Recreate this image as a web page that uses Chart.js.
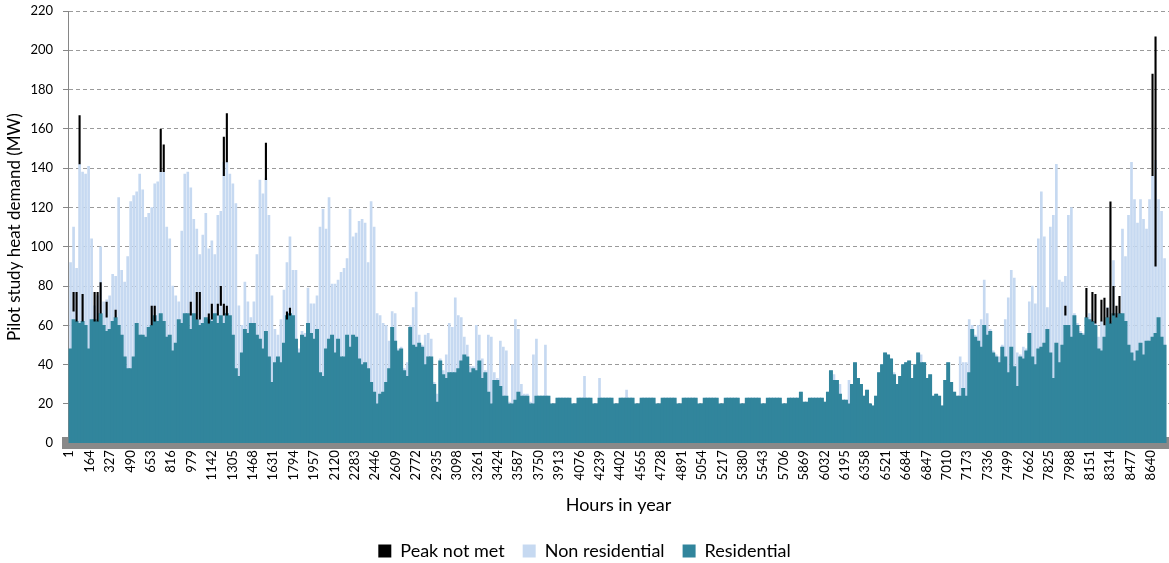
<!DOCTYPE html>
<html>
<head>
<meta charset="utf-8">
<script src="https://cdn.jsdelivr.net/npm/chart.js@4.4.1/dist/chart.umd.min.js"></script>
<style>
  html, body { margin: 0; padding: 0; background: #fff; }
  #wrap { width: 1169px; height: 563px; position: relative; }
</style>
</head>
<body>
<div id="wrap"><canvas id="myChart"></canvas></div>
<script>
// one value per day of the year (MW)
const residential = [
  48,63,62,61,62,60,48,63,63,62, 66,60,57,58,62,64,60,55,44,38,
  38,44,61,55,55,54,59,60,65,62, 66,62,54,55,47,51,63,61,66,66,
  58,66,63,60,61,64,63,62,66,61, 65,61,66,65,55,38,34,46,58,56,
  61,61,55,53,48,57,44,31,41,44, 41,51,65,66,65,53,46,55,54,61,
  56,53,58,36,34,48,53,55,46,53, 44,44,55,49,55,54,43,40,41,38,
  31,26,20,25,26,31,38,59,52,47, 48,37,34,59,50,49,51,49,40,44,
  44,30,21,42,35,33,36,36,36,38, 42,45,44,36,38,37,42,33,36,26,
  20,32,32,29,24,24,20,20,22,26, 24,24,24,20,20,24,24,24,24,24,
  20,20,23,23,23,23,23,20,20,23, 23,23,23,23,20,20,23,23,23,23,
  23,20,20,23,23,23,23,23,20,20, 23,23,23,23,23,20,20,23,23,23,
  23,23,20,20,23,23,23,23,23,20, 20,23,23,23,23,23,20,20,23,23,
  23,23,23,20,20,23,23,23,23,23, 20,20,23,23,23,23,23,20,20,23,
  23,23,23,26,21,21,23,23,23,23, 23,21,26,37,32,32,25,22,22,20,
  30,41,33,30,24,27,20,19,24,36, 40,46,45,43,35,30,34,40,41,42,
  33,40,46,41,41,33,35,24,25,24, 19,32,41,31,26,24,24,28,24,36,
  58,54,52,49,60,55,57,46,44,41, 49,44,36,49,39,29,44,43,47,56,
  44,40,48,49,51,58,46,33,51,41, 50,60,60,54,65,60,56,55,64,63,
  62,60,48,47,54,64,61,66,64,66, 66,62,50,46,42,47,51,45,52,52,
  54,56,64,54,50
];
const nonResidential = [
  44,47,27,81,76,77,93,41,7,13, 34,12,16,17,24,21,65,33,38,57,
  85,82,67,82,74,61,58,60,67,71, 72,76,56,49,33,24,9,47,71,72,
  72,48,46,36,45,53,36,41,30,55, 53,82,77,72,77,84,36,14,24,16,
  3,11,41,81,79,78,72,44,17,11, 22,27,27,39,23,35,2,2,2,18,
  15,18,17,74,85,61,72,26,35,30, 43,45,39,70,50,53,70,74,71,54,
  92,84,46,40,35,29,14,8,14,1, 1,1,7,1,19,28,4,1,15,12,
  9,1,4,1,2,12,25,23,38,27, 22,9,6,3,1,23,13,10,1,29,
  34,4,1,23,25,23,1,20,41,32, 6,1,1,1,25,29,0,0,26,0,
  0,0,0,0,0,0,0,0,0,0, 0,11,0,0,0,0,10,0,0,0,
  0,0,0,0,0,4,0,0,0,0, 0,0,0,0,0,0,0,0,0,0,
  0,0,0,0,0,0,0,0,0,0, 0,0,0,0,0,0,0,0,0,0,
  0,0,0,0,0,0,0,0,0,0, 0,0,0,0,0,0,0,0,0,0,
  0,0,0,0,0,0,0,0,0,0, 0,0,0,0,3,0,5,0,0,12,
  0,0,0,0,0,0,0,0,0,0, 0,0,0,0,1,0,0,0,0,0,
  0,0,0,4,0,0,0,0,0,0, 0,0,0,0,0,0,20,13,17,27,
  2,1,8,14,23,11,1,1,1,3, 1,19,38,39,45,17,1,6,1,16,
  36,31,56,79,54,11,64,83,91,42, 32,25,56,66,1,1,1,1,0,3,
  0,1,6,15,6,5,1,27,2,0, 43,33,66,97,82,65,73,69,57,72,
  82,88,60,64,44
];
// peak not met: day of year, bottom and top of the black mark (MW)
const peakDay  = [1,2,3,4,8,9,10,12,15,27,28,30,31,40,42,43,46,47,49,50,51,51,52,52,65,72,73,331,338,340,341,343,344,345,346,347,348,349,360,361];
const peakFrom = [67,62,142,62,62,62,66,64,64,60,62,138,138,65,63,63,61,63,65,70,136,65,143,65,134,63,65,65,64,62,61,62,60,64,61,65,64,66,136,90];
const peakTo   = [77,77,167,76,77,77,82,72,68,70,70,160,152,72,77,77,66,71,71,80,156,71,168,70,153,67,69,70,79,77,76,73,74,69,123,80,70,75,188,207];

const tickLabels = [1,164,327,490,653,816,979,1142,1305,1468,1631,1794,1957,2120,2283,2446,2609,2772,
  2935,3098,3261,3424,3587,3750,3913,4076,4239,4402,4565,4728,4891,5054,5217,5380,5543,5706,5869,6032,
  6195,6358,6521,6684,6847,7010,7173,7336,7499,7662,7825,7988,8151,8314,8477,8640];

Chart.defaults.font.family = 'Lato';
Chart.defaults.color = '#000';

// bars sit in the middle of each day
const dayHours = residential.map((v, i) => i * 24 + 12.5);
const peakData = peakDay.map((d, i) => ({x: d * 24 + 12.5, y: [peakFrom[i], peakTo[i]]}));

const config = {
  type: 'bar',
  data: {
    labels: dayHours,
    datasets: [
      {
        label: 'Peak not met',
        data: peakData,
        backgroundColor: '#000000',
        stack: 'peak',
        grouped: false,
        barPercentage: 0.7,
        categoryPercentage: 1,
        order: 0
      },
      {
        label: 'Non residential',
        data: nonResidential,
        backgroundColor: '#c6d9f1',
        barThickness: 2,
        order: 2
      },
      {
        label: 'Residential',
        data: residential,
        backgroundColor: '#31859c',
        barThickness: 3.3,
        order: 1
      }
    ]
  },
  options: {
    responsive: true,
    maintainAspectRatio: false,
    animation: false,
    events: [],
    layout: {padding: {top: 0, right: 0, bottom: -7, left: 0}},
    plugins: {
      legend: {
        position: 'bottom',
        labels: {
          boxWidth: 13, boxHeight: 13, padding: 18, font: {size: 18},
          sort: (a, b) => a.datasetIndex - b.datasetIndex
        }
      },
      tooltip: {enabled: false}
    },
    scales: {
      x: {
        type: 'linear',
        stacked: true,
        offset: false,
        min: -8,
        max: 8784,
        afterBuildTicks: (axis) => { axis.ticks = tickLabels.map(v => ({value: v})); },
        afterFit: (axis) => { axis.paddingLeft = 0; axis.paddingRight = 0; },
        ticks: {
          autoSkip: false, minRotation: 90, maxRotation: 90, padding: 7,
          font: {size: 13},
          callback: (v) => String(v)
        },
        grid: {display: true, drawOnChartArea: false, drawTicks: false},
        border: {display: true, color: '#898989', width: 12},
        title: {display: true, text: 'Hours in year', font: {size: 18}, padding: {top: 7, bottom: 8}}
      },
      y: {
        stacked: true,
        min: 0,
        max: 220,
        afterFit: (axis) => { axis.width = 68; axis.paddingTop = 11; },
        ticks: {stepSize: 20, padding: 10, font: {size: 13}},
        grid: {color: '#9a9a9a', tickColor: '#868686', tickLength: 5, tickBorderDash: []},
        border: {display: true, color: '#868686', width: 1, dash: [4, 3]},
        title: {display: true, text: 'Pilot study heat demand (MW)', font: {size: 17}, padding: {top: 4, bottom: 4}}
      }
    }
  }
};

new Chart(document.getElementById('myChart'), config);
</script>
</body>
</html>
